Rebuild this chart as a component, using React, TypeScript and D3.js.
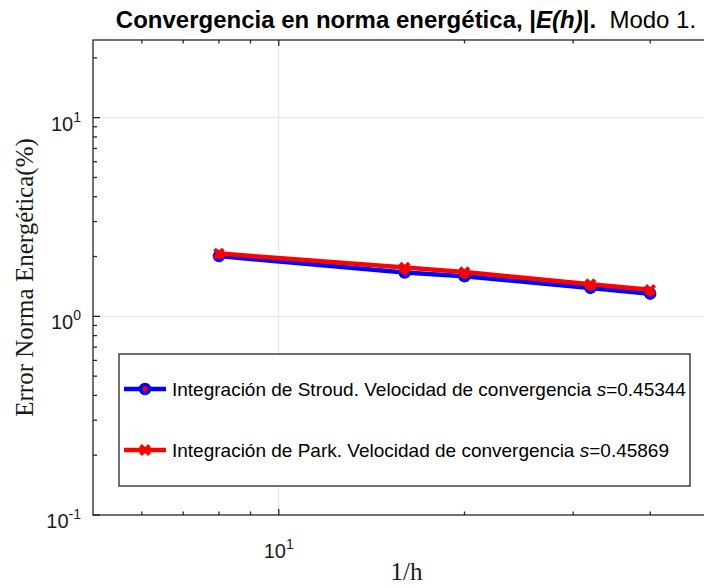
import React, { useEffect, useRef } from 'react';
import * as d3 from 'd3';

// values
const inverseH = [8, 16, 20, 32, 40];
const stroudError = [2.01, 1.66, 1.59, 1.39, 1.30];
const parkError = [2.07, 1.76, 1.67, 1.45, 1.36];
const seriesLabels = [
  ['Integración de Stroud. Velocidad de convergencia ', 's', '=0.45344'],
  ['Integración de Park. Velocidad de convergencia ', 's', '=0.45869'],
];
const xMajorTicks = [10];
const xMinorTicks = [6, 7, 8, 9, 20, 30, 40];
const yMajorTicks = [0.1, 1, 10];
const yMinorTicks = [0.2, 0.3, 0.4, 0.5, 0.6, 0.7, 0.8, 0.9, 2, 3, 4, 5, 6, 7, 8, 9, 20];
const xTickLabels = ['1'];
const yTickLabels = ['-1', '0', '1'];

export default function App() {
  const ref = useRef<SVGSVGElement>(null);
  const width = 704;
  const height = 588;
  const margin = { Top: 40, Right: -6, Bottom: 73, Left: 93 };

  useEffect(() => {
    const svg = d3.select(ref.current);
    svg.selectAll('*').remove();
    svg.attr('width', width).attr('height', height)
      .style('position', 'absolute').style('left', 0).style('top', 0)
      .style('background', '#fff');

    const sans = '"Liberation Sans", Arial, Helvetica, sans-serif';
    const serif = '"Liberation Serif", "Times New Roman", serif';

    const xScale = d3.scaleLog().domain([5, 50]).range([margin.Left, width - margin.Right]);
    const yScale = d3.scaleLog().domain([0.1, 24.6]).range([height - margin.Bottom, margin.Top]);
    const x0 = margin.Left, x1 = width - margin.Right;
    const y0 = height - margin.Bottom, y1 = margin.Top;

    // ---------- grid ----------
    const grid = svg.append('g').attr('stroke', '#e3e3e3').attr('stroke-width', 1);
    grid.selectAll('.gx').data(xMajorTicks).join('line')
      .attr('x1', d => xScale(d)).attr('x2', d => xScale(d))
      .attr('y1', y0).attr('y2', y1);
    grid.selectAll('.gy').data(yMajorTicks.filter(d => d > 0.1)).join('line')
      .attr('y1', d => yScale(d)).attr('y2', d => yScale(d))
      .attr('x1', x0).attr('x2', x1);

    // ---------- box + ticks ----------
    const axes = svg.append('g').attr('stroke', '#262626').attr('stroke-width', 1.3);
    axes.append('rect').attr('x', x0).attr('y', y1).attr('width', x1 - x0).attr('height', y0 - y1)
      .attr('fill', 'none');

    const xt = [...xMajorTicks.map(v => ({ v, l: 6 })), ...xMinorTicks.map(v => ({ v, l: 3.5 }))];
    axes.selectAll('.xtb').data(xt).join('line')
      .attr('x1', d => xScale(d.v)).attr('x2', d => xScale(d.v))
      .attr('y1', y0).attr('y2', d => y0 - d.l);
    axes.selectAll('.xtt').data(xt).join('line')
      .attr('x1', d => xScale(d.v)).attr('x2', d => xScale(d.v))
      .attr('y1', y1).attr('y2', d => y1 + d.l);
    const yt = [...yMajorTicks.map(v => ({ v, l: 7 })), ...yMinorTicks.map(v => ({ v, l: 4 }))];
    axes.selectAll('.ytl').data(yt).join('line')
      .attr('y1', d => yScale(d.v)).attr('y2', d => yScale(d.v))
      .attr('x1', x0).attr('x2', d => x0 + d.l);

    // ---------- tick labels ----------
    const yl = svg.append('g').attr('font-family', sans).attr('fill', '#1a1a1a');
    yMajorTicks.forEach((v, i) => {
      const t = yl.append('text').attr('x', x0 - 12).attr('y', yScale(v) + 13)
        .attr('text-anchor', 'end').attr('font-size', 20);
      t.append('tspan').text('10');
      t.append('tspan').text(yTickLabels[i]).attr('font-size', 14).attr('dy', -9);
    });
    xMajorTicks.forEach((v, i) => {
      const t = yl.append('text').attr('x', xScale(v)).attr('y', y0 + 43)
        .attr('text-anchor', 'middle').attr('font-size', 20);
      t.append('tspan').text('10');
      t.append('tspan').text(xTickLabels[i]).attr('font-size', 14).attr('dy', -9);
    });

    // ---------- axis titles ----------
    svg.append('text').text('1/h')
      .attr('x', (x0 + x1) / 2 + 5).attr('y', 580)
      .attr('text-anchor', 'middle').attr('font-family', serif).attr('font-size', 25).attr('fill', '#1a1a1a');
    svg.append('text').text('Error Norma Energética(%)')
      .attr('transform', `translate(33,${(y0 + y1) / 2}) rotate(-90)`)
      .attr('text-anchor', 'middle').attr('font-family', serif).attr('font-size', 25).attr('fill', '#1a1a1a');

    // ---------- title ----------
    const title = svg.append('text').attr('x', 406).attr('y', 28)
      .attr('text-anchor', 'middle').attr('font-family', sans).attr('font-size', 24)
      .attr('fill', '#000');
    title.append('tspan').text('Convergencia en norma energética, |').attr('font-weight', 'bold');
    title.append('tspan').text('E(h)').attr('font-weight', 'bold').attr('font-style', 'italic');
    title.append('tspan').text('|.').attr('font-weight', 'bold');
    title.append('tspan').text('\u00a0\u00a0Modo 1.');

    // ---------- series ----------
    const line = d3.line<number>().x((d, i) => xScale(inverseH[i])).y(d => yScale(d));

    svg.append('path').datum(stroudError).attr('d', line)
      .attr('fill', 'none').attr('stroke', '#0000ff').attr('stroke-width', 4.5);
    svg.append('g').selectAll('circle').data(stroudError).join('circle')
      .attr('cx', (d, i) => xScale(inverseH[i])).attr('cy', d => yScale(d))
      .attr('r', 4.5).attr('fill', '#ff0000').attr('stroke', '#0000ff').attr('stroke-width', 3.5);

    svg.append('path').datum(parkError).attr('d', line)
      .attr('fill', 'none').attr('stroke', '#ff0000').attr('stroke-width', 4.5);
    const cross = (cx: number, cy: number, s: number) =>
      `M${cx - s},${cy - s}L${cx + s},${cy + s}M${cx - s},${cy + s}L${cx + s},${cy - s}`;
    svg.append('g').selectAll('path').data(parkError).join('path')
      .attr('d', (d, i) => cross(xScale(inverseH[i]), yScale(d), 4.5))
      .attr('stroke', '#ff0000').attr('stroke-width', 4).attr('fill', 'none');

    // ---------- legend ----------
    const lg = svg.append('g');
    lg.append('rect').attr('x', 119).attr('y', 354).attr('width', 571).attr('height', 132)
      .attr('fill', '#fff').attr('stroke', '#262626').attr('stroke-width', 1.3);
    const rows = [389, 450];
    const colors = ['#0000ff', '#ff0000'];
    rows.forEach((ry, i) => {
      lg.append('line').attr('x1', 124).attr('x2', 166).attr('y1', ry).attr('y2', ry)
        .attr('stroke', colors[i]).attr('stroke-width', 4.5);
      if (i === 0) {
        lg.append('circle').attr('cx', 145).attr('cy', ry).attr('r', 4.5)
          .attr('fill', '#ff0000').attr('stroke', '#0000ff').attr('stroke-width', 3.5);
      } else {
        lg.append('path').attr('d', cross(145, ry, 4.5))
          .attr('stroke', '#ff0000').attr('stroke-width', 4).attr('fill', 'none');
      }
      const t = lg.append('text').attr('x', 172).attr('y', ry + 7)
        .attr('font-family', sans).attr('font-size', 19).attr('fill', '#000');
      t.append('tspan').text(seriesLabels[i][0]);
      t.append('tspan').text(seriesLabels[i][1]).attr('font-style', 'italic');
      t.append('tspan').text(seriesLabels[i][2]);
    });
  }, []);

  return (
    <>
      <svg ref={ref}></svg>
    </>
  );
}
